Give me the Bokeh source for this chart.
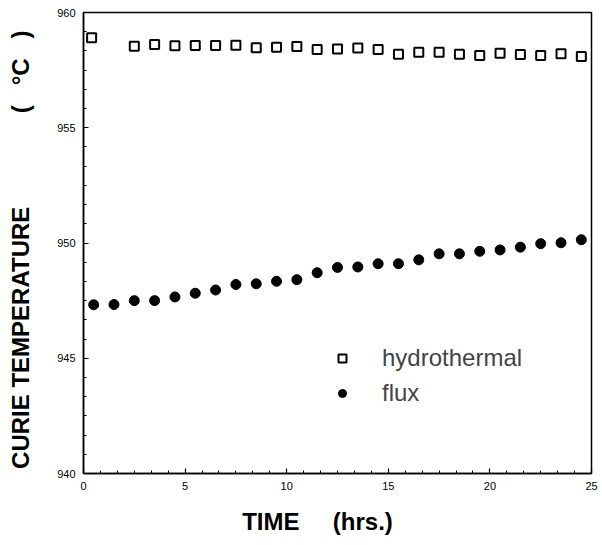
from bokeh.plotting import figure
from bokeh.models import Range1d, SingleIntervalTicker, Legend, LegendItem
from bokeh.embed import file_html
from bokeh.resources import INLINE

# ---- data ----
time_flux = [0.5, 1.5, 2.5, 3.5, 4.5, 5.5, 6.5, 7.5, 8.5, 9.5, 10.5, 11.5, 12.5,
             13.5, 14.5, 15.5, 16.5, 17.5, 18.5, 19.5, 20.5, 21.5, 22.5, 23.5, 24.5]
flux = [947.32, 947.33, 947.50, 947.50, 947.66, 947.82, 947.96, 948.20, 948.23,
        948.34, 948.41, 948.71, 948.94, 948.96, 949.10, 949.10, 949.27, 949.53,
        949.53, 949.64, 949.70, 949.82, 949.97, 950.01, 950.14]

time_hydro = [0.4, 2.5, 3.5, 4.5, 5.5, 6.5, 7.5, 8.5, 9.5, 10.5, 11.5, 12.5,
              13.5, 14.5, 15.5, 16.5, 17.5, 18.5, 19.5, 20.5, 21.5, 22.5, 23.5, 24.5]
hydro = [958.90, 958.54, 958.61, 958.56, 958.57, 958.57, 958.58, 958.47, 958.49,
         958.52, 958.39, 958.42, 958.46, 958.39, 958.19, 958.28, 958.28, 958.19,
         958.13, 958.23, 958.18, 958.13, 958.21, 958.09]

x_ticks = [0, 5, 10, 15, 20, 25]
y_ticks = [940, 945, 950, 955, 960]
series_names = ["hydrothermal", "flux"]

NBSP = "\u00a0"
FONT = "Liberation Sans"

p = figure(width=600, height=544, output_backend="svg", toolbar_location=None,
           x_range=Range1d(x_ticks[0], x_ticks[-1]),
           y_range=Range1d(y_ticks[0], y_ticks[-1]),
           min_border_left=83, min_border_right=9, min_border_top=12,
           min_border_bottom=71)
p.background_fill_color = "white"
p.border_fill_color = "white"
p.grid.visible = False
p.outline_line_color = "black"
p.outline_line_width = 1.5

p.xaxis.ticker = SingleIntervalTicker(interval=5, num_minor_ticks=6)
p.yaxis.ticker = SingleIntervalTicker(interval=5, num_minor_ticks=6)

for ax in (p.xaxis[0], p.yaxis[0]):
    ax.axis_line_color = "black"
    ax.axis_line_width = 1.5
    ax.major_tick_in = 5
    ax.major_tick_out = 0
    ax.minor_tick_in = 3
    ax.minor_tick_out = 0
    ax.major_tick_line_width = 1.2
    ax.minor_tick_line_width = 1
    ax.major_label_text_font = FONT
    ax.axis_label_text_font = FONT
    ax.axis_label_text_font_style = "bold"
    ax.axis_label_text_color = "black"
    ax.major_label_text_color = "black"

p.xaxis.major_label_text_font_size = "11px"
p.yaxis.major_label_text_font_size = "11px"
p.xaxis.major_label_standoff = 8
p.yaxis.major_label_standoff = 8

p.xaxis.axis_label = "TIME" + NBSP * 5 + "(hrs.)" + NBSP * 6
p.xaxis.axis_label_text_font_size = "24px"
p.xaxis.axis_label_standoff = 15
p.yaxis.axis_label = ("CURIE TEMPERATURE" + NBSP * 14 + "(" + NBSP * 3 + "°C"
                      + NBSP * 3 + ")" + NBSP * 2)
p.yaxis.axis_label_text_font_size = "24px"
p.yaxis.axis_label_standoff = 20

r_h = p.scatter(time_hydro, hydro, marker="square", size=9, fill_color="white",
                line_color="black", line_width=2)
r_f = p.scatter(time_flux, flux, marker="circle", size=10, fill_color="black",
                line_color="black")

legend = Legend(items=[LegendItem(label=series_names[0], renderers=[r_h]),
                       LegendItem(label=series_names[1], renderers=[r_f])],
                location=(249, 65), orientation="vertical")
legend.border_line_color = None
legend.background_fill_alpha = 0
legend.label_text_font = FONT
legend.label_text_font_size = "24px"
legend.glyph_width = 20
legend.glyph_height = 30
legend.label_standoff = 30
legend.spacing = 5
legend.padding = 0
legend.margin = 0
p.add_layout(legend, "center")

open("out.html", "w").write(file_html(p, INLINE))
